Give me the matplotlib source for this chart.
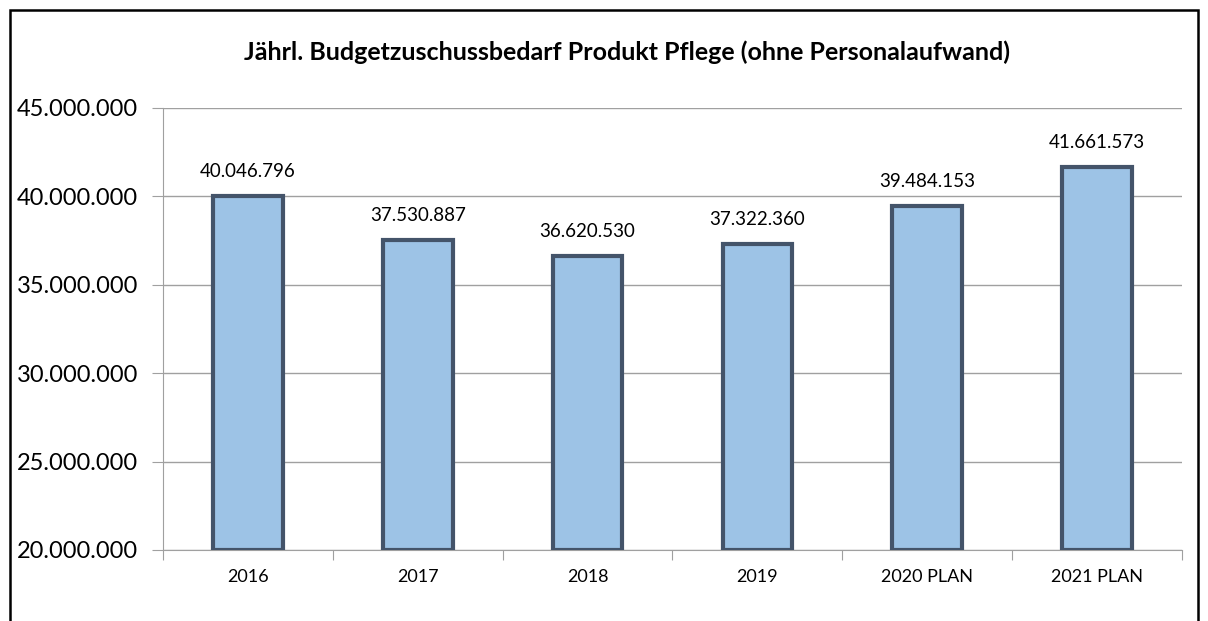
import matplotlib.pyplot as plt
from matplotlib.patches import Rectangle
from matplotlib.ticker import FuncFormatter

# Daten
jahre = ['2016', '2017', '2018', '2019', '2020 PLAN', '2021 PLAN']
werte = [40046796, 37530887, 36620530, 37322360, 39484153, 41661573]
y_ticks = [20000000, 25000000, 30000000, 35000000, 40000000, 45000000]

plt.rcParams['font.family'] = ['Lato', 'DejaVu Sans']


def tausender(v, pos=None):
    return f'{int(v):,}'.replace(',', '.')


fig = plt.figure(figsize=(12.08, 6.21), dpi=100)
ax = fig.add_axes([163 / 1208, 1 - 550 / 621, (1182 - 163) / 1208, (550 - 108) / 621])

# Rahmen um das Diagramm (unten abgeschnitten)
fig.patches.append(Rectangle((10 / 1208, -0.05), 1188 / 1208, 1.05 - 10 / 621,
                             transform=fig.transFigure, fill=False,
                             edgecolor='black', linewidth=1.8))

x = range(len(jahre))
ax.bar(x, [w - 20000000 for w in werte], bottom=20000000, width=0.41,
       color='#9DC3E6', edgecolor='#44546A', linewidth=3, zorder=3)

for i, w in enumerate(werte):
    ax.text(i, w + 900000, tausender(w), ha='center', va='bottom', fontsize=13.5)

ax.set_xlim(-0.5, len(jahre) - 0.5)
ax.set_ylim(20000000, 45000000)
ax.set_yticks(y_ticks)
ax.yaxis.set_major_formatter(FuncFormatter(tausender))
ax.set_xticks([i + 0.5 for i in range(-1, len(jahre))], minor=False)
ax.set_xticklabels([''] * (len(jahre) + 1))
ax.set_xticks(list(x), minor=True)
ax.set_xticklabels(jahre, minor=True)
ax.tick_params(axis='x', which='minor', length=0, labelsize=13, pad=14)
ax.tick_params(axis='x', which='major', length=7, color='#A0A0A0', direction='out')
ax.tick_params(axis='y', length=8, color='#A0A0A0', labelsize=17, pad=10)

ax.grid(axis='y', color='#A0A0A0', linewidth=1, zorder=0)
for s in ['top', 'right']:
    ax.spines[s].set_visible(False)
ax.spines['left'].set_color('#A0A0A0')
ax.spines['bottom'].set_color('#A0A0A0')

fig.text(627 / 1208, 1 - 52 / 621, 'Jährl. Budgetzuschussbedarf Produkt Pflege (ohne Personalaufwand)',
         ha='center', va='center', fontsize=18, fontweight='bold')

plt.savefig('out.png', dpi=100)
